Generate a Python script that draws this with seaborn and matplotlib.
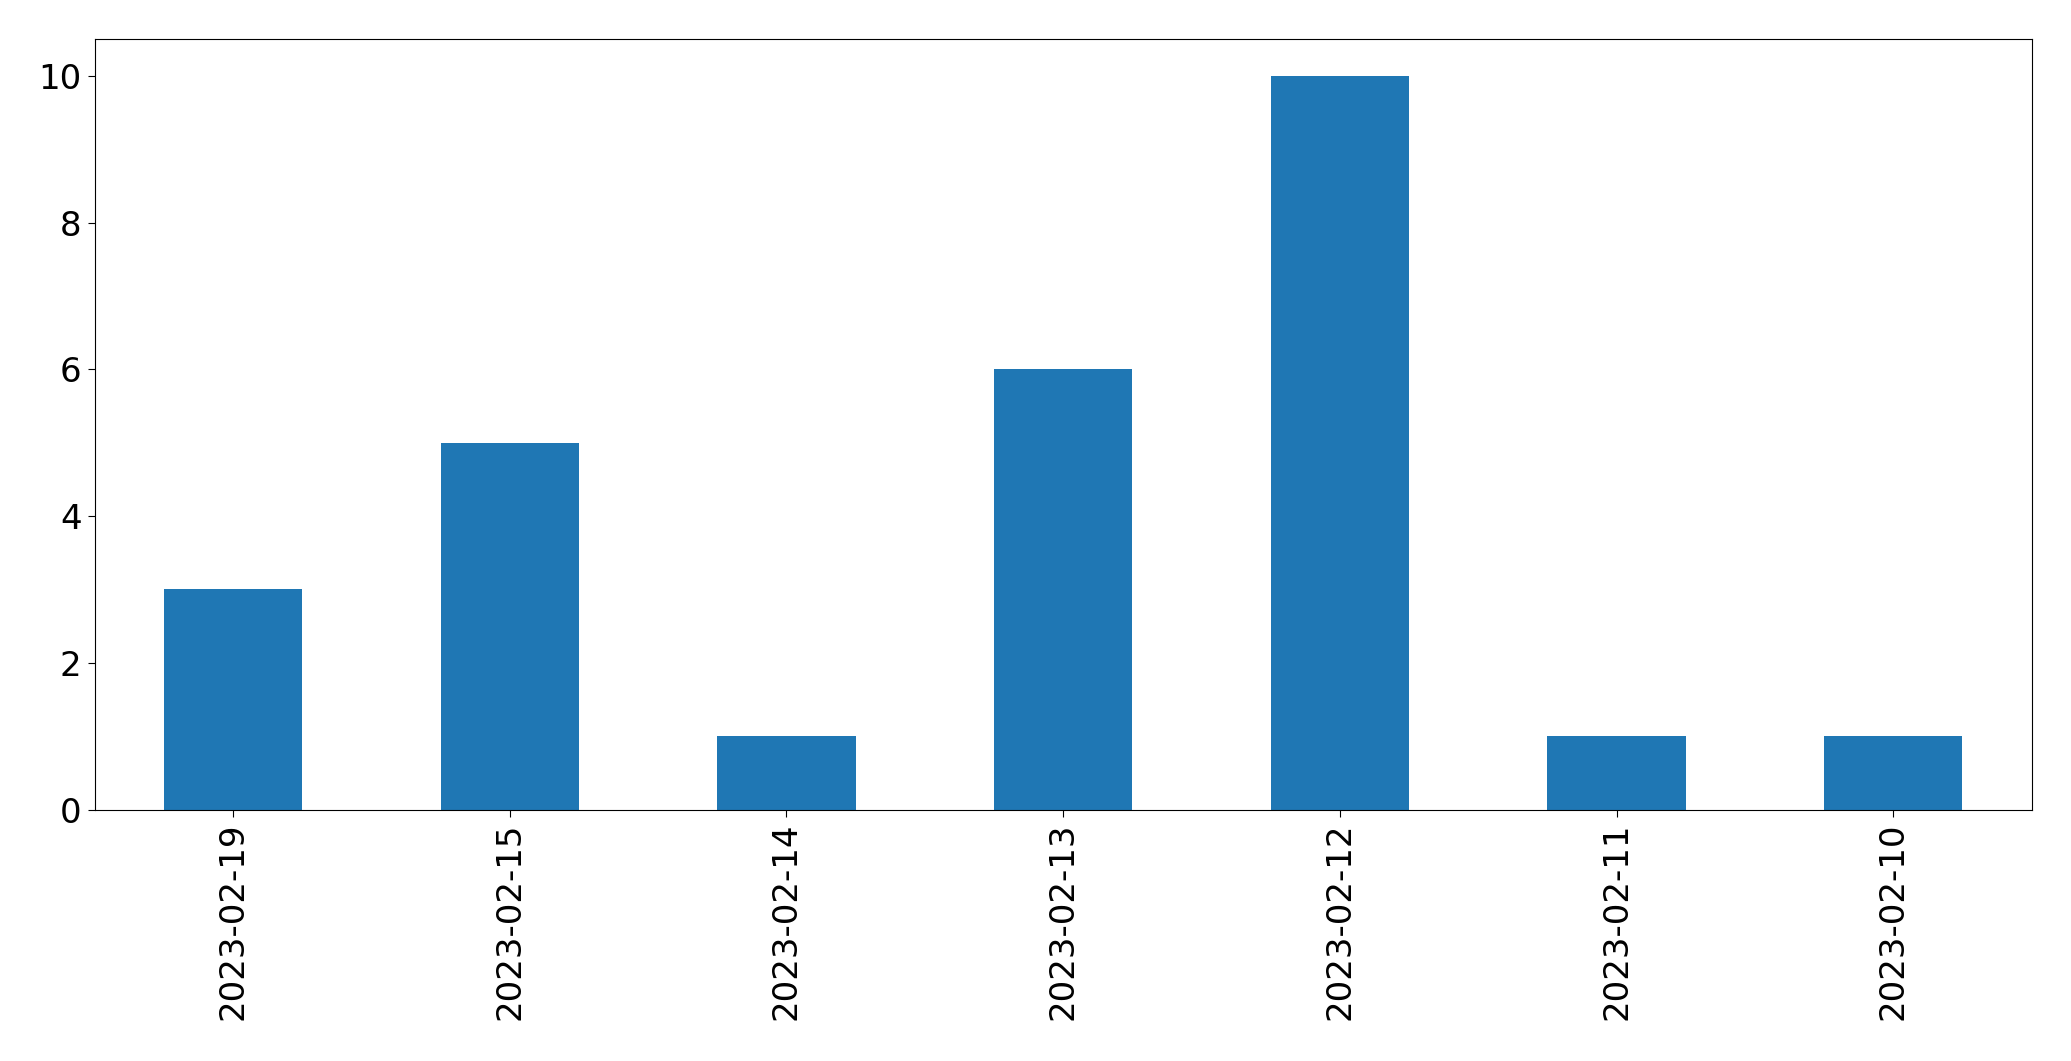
import pandas as pd
import matplotlib
matplotlib.use("Agg")
import matplotlib.pyplot as plt
import seaborn as sns

# values
dates = ["2023-02-19", "2023-02-15", "2023-02-14", "2023-02-13",
         "2023-02-12", "2023-02-11", "2023-02-10"]
counts = [3, 5, 1, 6, 10, 1, 1]

df = pd.DataFrame({"date": dates, "count": counts})

fig, ax = plt.subplots(figsize=(20.71, 10.61), dpi=100)
sns.barplot(data=df, x="date", y="count", order=dates, color="#1f77b4",
            saturation=1, width=0.5, linewidth=0, ax=ax)
ax.set_xlim(-0.5, len(dates) - 0.5)
ax.set_ylim(0, 10.5)
ax.set_xlabel("")
ax.set_ylabel("")
ax.tick_params(axis="both", labelsize=24.5, length=5, pad=4.5)
ax.tick_params(axis="x", labelrotation=90)
fig.subplots_adjust(left=0.0457, right=0.981, top=0.963, bottom=0.237)
fig.savefig("out.png", dpi=100)
